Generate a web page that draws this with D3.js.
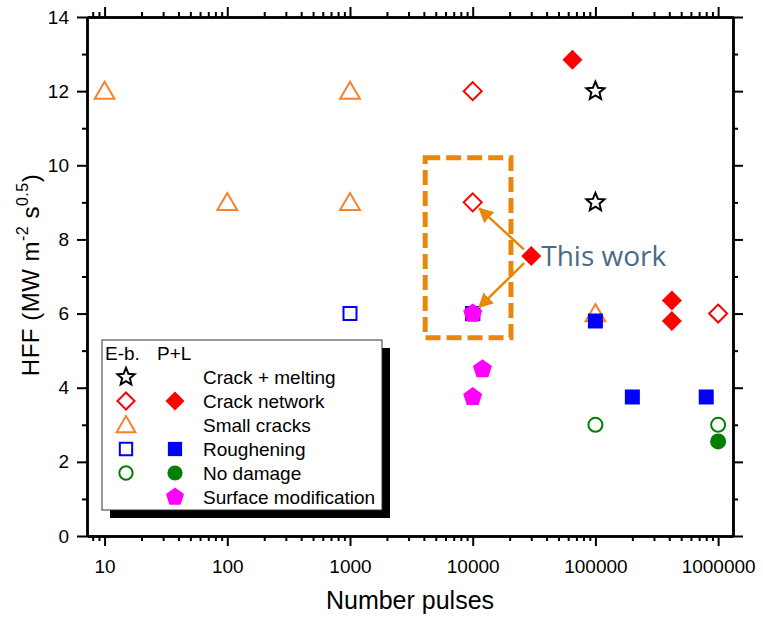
<!DOCTYPE html>
<html>
<head>
<meta charset="utf-8">
<style>
    body { margin: 0; background: #fff; }
    text { font-family: "Liberation Sans", Arial, sans-serif; }
</style>
</head>
<body>
<svg id="chart" width="763" height="618"></svg>
<script src="https://cdn.jsdelivr.net/npm/d3@7"></script>
<script>
    // ---- data: [pulses, HFF] ----
    // E-b. (open symbols)
    const ebCrackMelting = [[1e5, 12], [1e5, 9]]
    const ebCrackNetwork = [[1e4, 12], [1e4, 9], [1e6, 6]]
    const ebSmallCracks = [[10, 12], [100, 9], [1000, 12], [1000, 9], [1e5, 6]]
    const ebRoughening = [[1000, 6], [1e4, 6]]
    const ebNoDamage = [[1e5, 3], [1e6, 3]]
    // P+L (filled symbols)
    const plCrackNetwork = [[6.5e4, 12.85], [4.2e5, 6.35], [4.2e5, 5.8]]
    const plRoughening = [[1e4, 6], [1e5, 5.8], [2e5, 3.75], [8e5, 3.75]]
    const plNoDamage = [[1e6, 2.55]]
    const plSurfaceMod = [[1e4, 6], [1.2e4, 4.5], [1e4, 3.75]]
    // "This work" annotation
    const thisWork = [3e4, 7.55]
    const thisWorkBox = [[4100, 10.2], [2.05e4, 5.35]]

    const xTicks = [10, 100, 1000, 10000, 100000, 1000000]
    const yTicks = [0, 2, 4, 6, 8, 10, 12, 14]
    const yMinor = [1, 3, 5, 7, 9, 11, 13]

    const legendRows = [
        {label: "Crack + melting", open: "star", filled: null, color: "#000000"},
        {label: "Crack network", open: "diamond", filled: "diamond", color: "#ff0000"},
        {label: "Small cracks", open: "triangle", filled: null, color: "#f5822f"},
        {label: "Roughening", open: "square", filled: "square", color: "#0000ff"},
        {label: "No damage", open: "circle", filled: "circle", color: "#008000"},
        {label: "Surface modification", open: null, filled: "pentagon", color: "#ff00ff"}
    ]

    let svg = d3.select("#chart")
    let pLeft = 87, pRight = 733, pTop = 17, pBottom = 536

    let x = d3.scaleLog().domain([7.19, 1.322e6]).range([pLeft, pRight])
    let y = d3.scaleLinear().domain([0, 14]).range([pBottom, pTop])

    // symbol paths centred on 0,0; r is roughly half the width
    function shape(type, r) {
        let p = d3.path()
        if (type == "diamond") {
            p.moveTo(0, -r); p.lineTo(r, 0); p.lineTo(0, r); p.lineTo(-r, 0); p.closePath()
        } else if (type == "square") {
            p.rect(-r, -r, 2 * r, 2 * r)
        } else if (type == "circle") {
            p.arc(0, 0, r, 0, 2 * Math.PI)
        } else if (type == "triangle") {
            p.moveTo(0, -r * 1.05); p.lineTo(r * 1.1, r * 0.85); p.lineTo(-r * 1.1, r * 0.85); p.closePath()
        } else if (type == "pentagon") {
            for (let i = 0; i < 5; i++) {
                let a = -Math.PI / 2 + i * 2 * Math.PI / 5
                if (i == 0) p.moveTo(r * Math.cos(a), r * Math.sin(a))
                else p.lineTo(r * Math.cos(a), r * Math.sin(a))
            }
            p.closePath()
        } else if (type == "star") {
            for (let i = 0; i < 10; i++) {
                let a = -Math.PI / 2 + i * Math.PI / 5
                let rr = i % 2 == 0 ? r : r * 0.45
                if (i == 0) p.moveTo(rr * Math.cos(a), rr * Math.sin(a))
                else p.lineTo(rr * Math.cos(a), rr * Math.sin(a))
            }
            p.closePath()
        }
        return p.toString()
    }

    const openSize = {star: 9.5, diamond: 9, triangle: 9, square: 6.5, circle: 7}
    const filledSize = {diamond: 10, square: 7.5, circle: 8, pentagon: 10}

    function drawPoints(g, data, type, color, filled) {
        g.selectAll(null)
            .data(data)
            .enter()
            .append("path")
            .attr("d", shape(type, filled ? filledSize[type] : openSize[type]))
            .attr("transform", d => "translate(" + x(d[0]) + "," + y(d[1]) + ")")
            .style("fill", filled ? color : "none")
            .style("stroke", color)
            .style("stroke-width", filled ? 0 : 2)
            .style("stroke-linejoin", "miter")
    }

    // ---- axes ----
    let axes = svg.append("g")
    let fontSize = "19px"

    axes.append("g").attr("transform", "translate(0," + pBottom + ")")
        .call(d3.axisBottom(x).tickValues(xTicks).tickFormat(d3.format("d")).tickSize(10).tickSizeOuter(0).tickPadding(14))
    axes.append("g").attr("transform", "translate(0," + pTop + ")")
        .call(d3.axisTop(x).tickValues(xTicks).tickFormat("").tickSize(10).tickSizeOuter(0))

    let xMinor = []
    for (let e = 0; e <= 6; e++) {
        for (let k = 2; k <= 9; k++) {
            let v = k * Math.pow(10, e)
            if (v > 7.19 && v < 1.322e6) xMinor.push(v)
        }
    }
    axes.append("g").attr("transform", "translate(0," + pBottom + ")")
        .call(d3.axisBottom(x).tickValues(xMinor).tickFormat("").tickSize(5).tickSizeOuter(0))
    axes.append("g").attr("transform", "translate(0," + pTop + ")")
        .call(d3.axisTop(x).tickValues(xMinor).tickFormat("").tickSize(5).tickSizeOuter(0))

    axes.append("g").attr("transform", "translate(" + pLeft + ",0)")
        .call(d3.axisLeft(y).tickValues(yTicks).tickSize(10).tickSizeOuter(0).tickPadding(8))
    axes.append("g").attr("transform", "translate(" + pRight + ",0)")
        .call(d3.axisRight(y).tickValues(yTicks).tickFormat("").tickSize(10).tickSizeOuter(0))
    axes.append("g").attr("transform", "translate(" + pLeft + ",0)")
        .call(d3.axisLeft(y).tickValues(yMinor).tickFormat("").tickSize(5).tickSizeOuter(0))
    axes.append("g").attr("transform", "translate(" + pRight + ",0)")
        .call(d3.axisRight(y).tickValues(yMinor).tickFormat("").tickSize(5).tickSizeOuter(0))

    axes.selectAll("path.domain").style("stroke", "#000").style("stroke-width", 2.5)
    axes.selectAll(".tick line").style("stroke", "#000").style("stroke-width", 2)
    axes.selectAll(".tick text")
        .style("font-family", "'Liberation Sans', Arial, sans-serif")
        .style("font-size", fontSize)
        .style("fill", "#000")

    // axis titles
    svg.append("text")
        .attr("x", 410)
        .attr("y", 609)
        .attr("text-anchor", "middle")
        .style("font-size", "25px")
        .text("Number pulses")

    let yl = svg.append("text")
        .attr("transform", "translate(39,275) rotate(-90)")
        .attr("text-anchor", "middle")
        .style("font-size", "24px")
        .style("letter-spacing", "0.5px")
    yl.append("tspan").text("HFF (MW m")
    yl.append("tspan").attr("dy", -11).style("font-size", "16px").text("-2")
    yl.append("tspan").attr("dy", 11).text(" s")
    yl.append("tspan").attr("dy", -11).style("font-size", "16px").text("0.5")
    yl.append("tspan").attr("dy", 11).text(")")

    // ---- points ----
    let pts = svg.append("g")
    drawPoints(pts, ebSmallCracks, "triangle", "#f5822f", false)
    drawPoints(pts, ebRoughening, "square", "#0000ff", false)
    drawPoints(pts, plRoughening, "square", "#0000ff", true)
    drawPoints(pts, ebCrackMelting, "star", "#000000", false)
    drawPoints(pts, ebCrackNetwork, "diamond", "#ff0000", false)
    drawPoints(pts, plCrackNetwork, "diamond", "#ff0000", true)
    drawPoints(pts, ebNoDamage, "circle", "#008000", false)
    drawPoints(pts, plNoDamage, "circle", "#008000", true)
    drawPoints(pts, plSurfaceMod, "pentagon", "#ff00ff", true)

    // ---- "This work" annotation ----
    let orange = "#e8870c"
    svg.append("defs").append("marker")
        .attr("id", "arrow")
        .attr("viewBox", "0 0 10 10")
        .attr("refX", 9).attr("refY", 5)
        .attr("markerWidth", 6).attr("markerHeight", 6)
        .attr("markerUnits", "strokeWidth")
        .attr("orient", "auto")
        .append("path").attr("d", "M0,0 L10,5 L0,10 z").style("fill", orange)

    svg.append("rect")
        .attr("x", x(thisWorkBox[0][0]))
        .attr("y", y(thisWorkBox[0][1]))
        .attr("width", x(thisWorkBox[1][0]) - x(thisWorkBox[0][0]))
        .attr("height", y(thisWorkBox[1][1]) - y(thisWorkBox[0][1]))
        .style("fill", "none")
        .style("stroke", orange)
        .style("stroke-width", 5)
        .style("stroke-dasharray", "15,6")

    let tx = x(thisWork[0]), ty = y(thisWork[1])
    let targets = [[1e4, 9], [1e4, 6]]
    targets.forEach(function(t) {
        let ex = x(t[0]), ey = y(t[1])
        let dx = ex - tx, dy = ey - ty, len = Math.sqrt(dx * dx + dy * dy)
        svg.append("line")
            .attr("x1", tx + dx / len * 10).attr("y1", ty + dy / len * 10)
            .attr("x2", ex - dx / len * 9).attr("y2", ey - dy / len * 9)
            .style("stroke", orange)
            .style("stroke-width", 2.5)
            .attr("marker-end", "url(#arrow)")
    })
    drawPoints(svg.append("g"), [thisWork], "diamond", "#ff0000", true)
    svg.append("text")
        .attr("x", tx + 10)
        .attr("y", ty + 10)
        .style("font-family", "'Open Sans', sans-serif")
        .style("font-size", "28px")
        .style("fill", "#4a6b84")
        .text("This work")

    // ---- legend ----
    let lg = svg.append("g").attr("transform", "translate(102,340)")
    lg.append("rect").attr("x", 8).attr("y", 8).attr("width", 280).attr("height", 170).style("fill", "#000")
    lg.append("rect").attr("x", 0).attr("y", 0).attr("width", 280).attr("height", 170)
        .style("fill", "#fff").style("stroke", "#333").style("stroke-width", 1)
    lg.append("text").attr("x", 3).attr("y", 20).style("font-size", "19px").text("E-b.")
    lg.append("text").attr("x", 55).attr("y", 20).style("font-size", "19px").text("P+L")

    legendRows.forEach(function(r, i) {
        let ry = 37 + i * 24
        if (r.open) {
            lg.append("path").attr("d", shape(r.open, openSize[r.open] * 0.95))
                .attr("transform", "translate(24," + ry + ")")
                .style("fill", "none").style("stroke", r.color).style("stroke-width", 2)
        }
        if (r.filled) {
            lg.append("path").attr("d", shape(r.filled, filledSize[r.filled] * 0.95))
                .attr("transform", "translate(73," + ry + ")")
                .style("fill", r.color)
        }
        lg.append("text").attr("x", 101).attr("y", ry + 6.5).style("font-size", "19px").text(r.label)
    })
</script>
</body>
</html>
